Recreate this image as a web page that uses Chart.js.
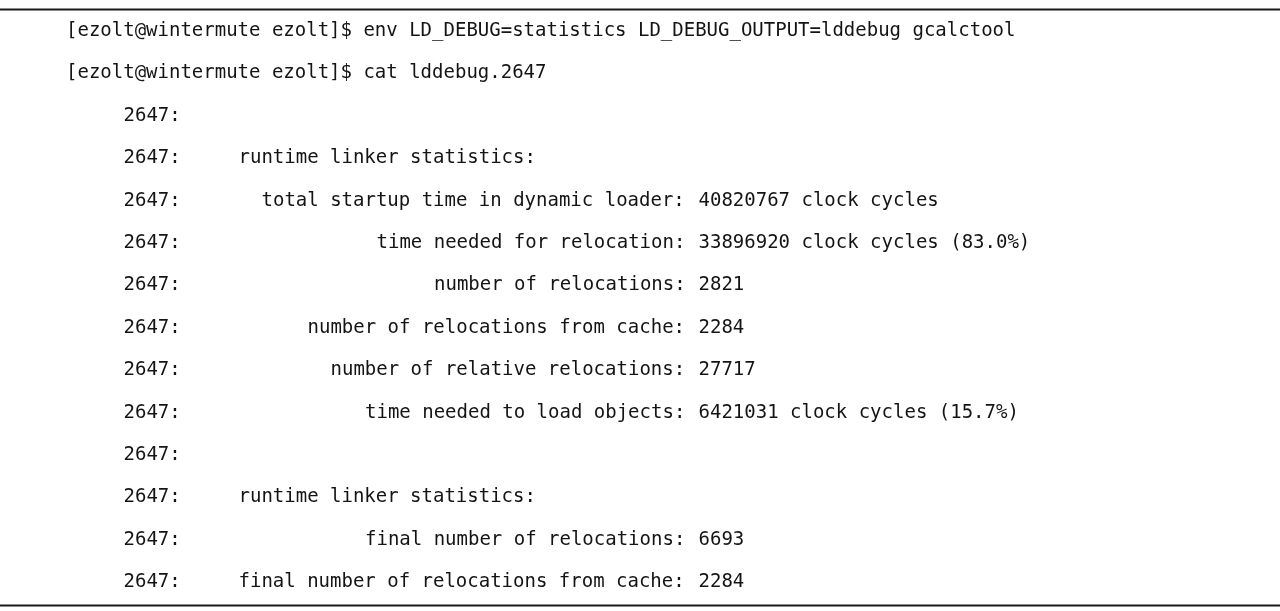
<!DOCTYPE html>
<html>
<head>
<meta charset="utf-8">
<title>lddebug statistics</title>
<script src="https://cdn.jsdelivr.net/npm/chart.js@4.4.1/dist/chart.umd.min.js"></script>
<style>
  html, body { margin: 0; padding: 0; background: #ffffff; }
  #wrap { width: 1280px; height: 611px; }
</style>
</head>
<body>
<div id="wrap"><canvas id="myChart"></canvas></div>
<script>
// terminal session
const prompt = '[ezolt@wintermute ezolt]$';
const commands = [
  'env LD_DEBUG=statistics LD_DEBUG_OUTPUT=lddebug gcalctool',
  'cat lddebug.2647'
];
const pid = '2647';

// ld.so statistics lines (label is right aligned on the colon)
const statLabels = [
  '',
  'runtime linker statistics:',
  'total startup time in dynamic loader:',
  'time needed for relocation:',
  'number of relocations:',
  'number of relocations from cache:',
  'number of relative relocations:',
  'time needed to load objects:',
  '',
  'runtime linker statistics:',
  'final number of relocations:',
  'final number of relocations from cache:'
];
const statValues = [
  '',
  '',
  '40820767 clock cycles',
  '33896920 clock cycles (83.0%)',
  '2821',
  '2284',
  '27717',
  '6421031 clock cycles (15.7%)',
  '',
  '',
  '6693',
  '2284'
];

// columns of the terminal
const pidCol = 5;
const headerCol = 15;
const colonCol = 53;

const ctx = document.getElementById('myChart');

const terminalText = {
  id: 'terminalText',
  afterDraw(chart) {
    const c = chart.ctx;
    const x = chart.scales.x;
    const y = chart.scales.y;
    const area = chart.chartArea;

    c.save();
    // rules above and below the listing
    c.strokeStyle = '#1a1a1a';
    c.lineWidth = 2;
    for (const r of [-0.53, commands.length + statLabels.length - 0.46]) {
      const py = Math.round(y.getPixelForValue(r)) + 0.5;
      c.beginPath();
      c.moveTo(area.left, py);
      c.lineTo(area.right, py);
      c.stroke();
    }

    c.fillStyle = '#141414';
    c.font = '19px "DejaVu Sans Mono", "Liberation Mono", monospace';
    c.textBaseline = 'middle';

    let row = 0;
    for (const cmd of commands) {
      c.textAlign = 'left';
      c.fillText(prompt + ' ' + cmd, x.getPixelForValue(0), y.getPixelForValue(row));
      row++;
    }

    for (let i = 0; i < statLabels.length; i++) {
      const py = y.getPixelForValue(row);
      c.textAlign = 'left';
      c.fillText(pid + ':', x.getPixelForValue(pidCol), py);
      const label = statLabels[i];
      if (label.startsWith('runtime')) {
        c.fillText(label, x.getPixelForValue(headerCol), py);
      } else if (label) {
        const start = colonCol + 1 - label.length;
        c.fillText(label, x.getPixelForValue(start), py);
      }
      if (statValues[i]) {
        c.fillText(statValues[i], x.getPixelForValue(colonCol + 2), py);
      }
      row++;
    }
    c.restore();
  }
};

new Chart(ctx, {
  type: 'scatter',
  data: { datasets: [] },
  options: {
    responsive: true,
    maintainAspectRatio: false,
    animation: false,
    layout: { padding: 0 },
    plugins: {
      legend: { display: false },
      tooltip: { enabled: false }
    },
    scales: {
      x: { type: 'linear', display: false, min: -5.74, max: 105.56 },
      y: { type: 'linear', display: false, reverse: true, min: -0.731, max: 13.68 }
    }
  },
  plugins: [terminalText]
});
</script>
</body>
</html>
